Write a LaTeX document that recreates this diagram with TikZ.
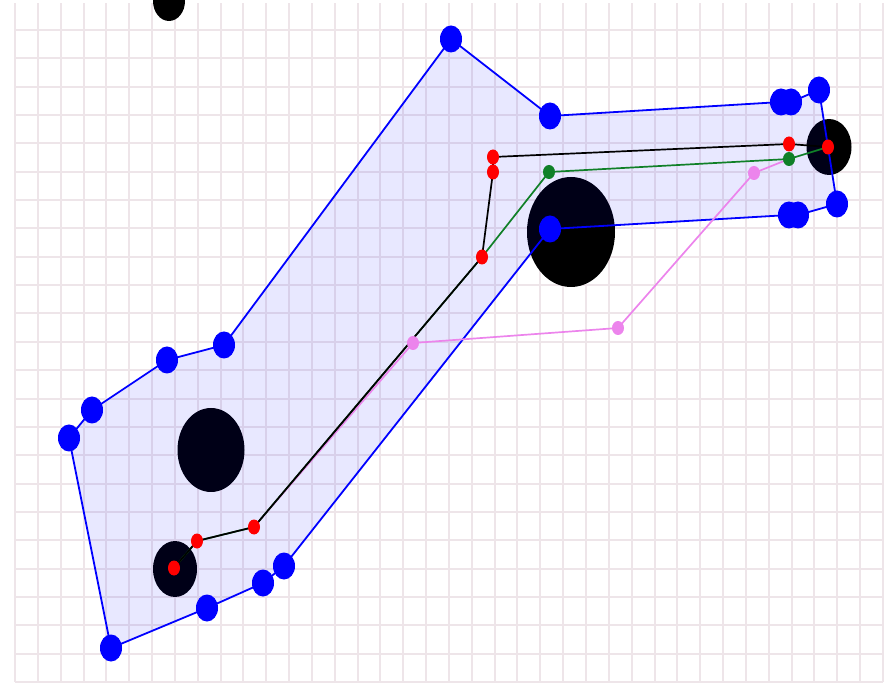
\documentclass[tikz,border=0pt]{standalone}
\usepackage{tikz}
\usetikzlibrary{shapes.geometric}
\definecolor{gridpink}{RGB}{238,229,233}
\definecolor{pathgreen}{RGB}{16,128,40}
\definecolor{pathviolet}{RGB}{236,132,236}

\begin{document}
\begin{tikzpicture}[x=1pt, y=-1pt,
every node/.style = {shape=ellipse, inner sep=0pt, outer sep=0pt},
gridline/.style={draw=gridpink, line width=2pt},
obstacle/.style={fill=black},
hull/.style={draw=blue, line width=1.8pt, fill=blue, fill opacity=0.09},
hulldot/.style={fill=blue, minimum width=22pt, minimum height=27pt},
reddot/.style={fill=red, minimum width=12pt, minimum height=15pt},
greendot/.style={fill=pathgreen, minimum width=12pt, minimum height=14pt},
violetdot/.style={fill=pathviolet, minimum width=12pt, minimum height=14pt},
route/.style={line width=1.7pt, line join=round}]
%
\useasboundingbox (0,0) rectangle (892,684);
\foreach \i in {0,...,38}
	\draw[gridline] ({15+22.84*\i},3) -- ({15+22.84*\i},682);
\foreach \j in {0,...,23}
	\draw[gridline] (15,{30+28.35*\j}) -- (883,{30+28.35*\j});
%
% obstacles
\node[obstacle, minimum width=32pt, minimum height=40pt] (obsTop) at (169,1) {};
\node[obstacle, minimum width=67pt, minimum height=84pt] (obsLeft) at (211,450) {};
\node[obstacle, minimum width=44pt, minimum height=56pt] (obsStart) at (175,569) {};
\node[obstacle, minimum width=88pt, minimum height=110pt] (obsMid) at (571,232) {};
\node[obstacle, minimum width=45pt, minimum height=56pt] (obsGoal) at (829,147) {};
%
% hull corners
\coordinate (b1) at (451,39);
\coordinate (b2) at (550,116);
\coordinate (b3) at (781,102);
\coordinate (b4) at (791,102);
\coordinate (b5) at (819,90);
\coordinate (b6) at (837,204);
\coordinate (b7) at (798,215);
\coordinate (b8) at (789,215);
\coordinate (b9) at (550,229);
\coordinate (b10) at (284,566);
\coordinate (b11) at (263,583);
\coordinate (b12) at (207,608);
\coordinate (b13) at (111,648);
\coordinate (b14) at (69,438);
\coordinate (b15) at (92,410);
\coordinate (b16) at (167,360);
\coordinate (b17) at (224,345);
%
% path points
\coordinate (r1) at (174,568);
\coordinate (r2) at (197,541);
\coordinate (r3) at (254,527);
\coordinate (r4) at (482,257);
\coordinate (r5) at (493,172);
\coordinate (r6) at (493,157);
\coordinate (r7) at (789,144);
\coordinate (r8) at (828,147);
\coordinate (g1) at (549,172);
\coordinate (g2) at (789,159);
\coordinate (v1) at (413,343);
\coordinate (v2) at (618,328);
\coordinate (v3) at (754,173);
%
\path[hull] (b1) -- (b2) -- (b3) -- (b4) -- (b5) -- (b6) -- (b7) -- (b8) -- (b9)
	-- (b10) -- (b11) -- (b12) -- (b13) -- (b14) -- (b15) -- (b16) -- (b17) -- cycle;
%
\draw[route, pathviolet] (r3) -- (v1) -- (v2) -- (v3) -- (g2);
\draw[route, pathgreen] (r1) -- (r2) -- (r3) -- (r4) -- (g1) -- (g2) -- (r8);
\draw[route, black] (r1) -- (r2) -- (r3) -- (r4) -- (r5) -- (r6) -- (r7) -- (r8);
%
\foreach \p in {b1,b2,b3,b4,b5,b6,b7,b8,b9,b10,b11,b12,b13,b14,b15,b16,b17}
	\node[hulldot] (\p dot) at (\p) {};
\foreach \p in {v1,v2,v3}
	\node[violetdot] (\p dot) at (\p) {};
\foreach \p in {g1,g2}
	\node[greendot] (\p dot) at (\p) {};
\foreach \p in {r1,r2,r3,r4,r5,r6,r7,r8}
	\node[reddot] (\p dot) at (\p) {};
\end{tikzpicture}
\end{document}
